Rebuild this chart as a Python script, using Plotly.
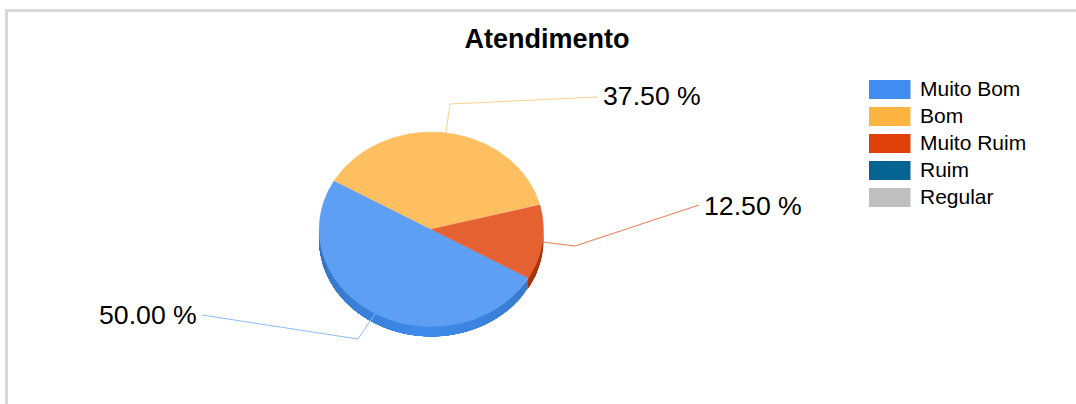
import numpy as np
import plotly.graph_objects as go

categories = ["Muito Bom", "Bom", "Muito Ruim", "Ruim", "Regular"]
values = [50.0, 37.5, 12.5, 0.0, 0.0]
legend_colors = ["#418CF0", "#FCB441", "#E0400A", "#056492", "#BFBFBF"]
top_colors = ["#5F9FF3", "#FDBF60", "#E66131", "#056492", "#BFBFBF"]
side_dark = ["#3570BB", "#F0A030", "#A83208", "#044A6D", "#909090"]
side_bright = ["#3D8BEC", "#FCB441", "#B93A0A", "#056492", "#BFBFBF"]
leader_colors = ["#8FBAF5", "#FDD08F", "#EE7A50", "#056492", "#BFBFBF"]
leader_mid = [(358, 339), (450, 104), (575, 246), None, None]
leader_end = [(202, 315), (598, 97), (699, 205), None, None]
label_pos = [(148, 314.5), (652, 95.5), (753, 205.5), None, None]

CX, CY, RX, RY, DEPTH = 431.3, 229.3, 112.2, 97.3, 9.8
START = -30.0
FONT = "Liberation Sans, Arial, sans-serif"


def px(a, dy=0.0):
    r = np.radians(a)
    return CX + RX * np.cos(r), CY - RY * np.sin(r) + dy


def mix(c1, c2, t):
    a = [int(c1[i:i + 2], 16) for i in (1, 3, 5)]
    b = [int(c2[i:i + 2], 16) for i in (1, 3, 5)]
    return "rgb(%d,%d,%d)" % tuple(round(p + (q - p) * t) for p, q in zip(a, b))


fig = go.Figure()
total = sum(values)
sweeps = []
ang = START
for v in values:
    sweeps.append((ang, ang - 360 * v / total))
    ang -= 360 * v / total


def fill_trace(xs, ys, color, width=0.0):
    fig.add_trace(go.Scatter(x=xs, y=ys, mode="lines", fill="toself", fillcolor=color,
                             line=dict(width=width, color=color), showlegend=False, hoverinfo="skip"))


# Side wall, visible on the lower half only; each band overlaps the rest of its slice
for i, (a0, a1) in enumerate(sweeps):
    vis = []
    for shift in (0, 360):
        s0, s1 = a0 + shift, a1 + shift
        h, l = min(s0, 0.0), max(s1, -180.0)
        if h > l:
            vis.append((h, l))
    for h, l in vis:
        n = max(1, int((h - l) / 4))
        edges = np.linspace(h, l, n + 1)
        for e0, e1 in zip(edges[:-1], edges[1:]):
            m = (e0 + e1) / 2
            t = 1 - abs(m + 92) / 90
            arc = np.linspace(e0, l, max(3, int((e0 - l) / 2) + 2))
            xt, yt = px(arc)
            xb, yb = px(arc[::-1], DEPTH)
            fill_trace(list(xt) + list(xb), list(yt) + list(yb),
                       mix(side_dark[i], side_bright[i], max(0, min(1, t))))

# Leader lines
for i, (a0, a1) in enumerate(sweeps):
    if values[i] == 0:
        continue
    sx, sy = px((a0 + a1) / 2)
    fig.add_trace(go.Scatter(x=[sx, leader_mid[i][0], leader_end[i][0]],
                             y=[sy, leader_mid[i][1], leader_end[i][1]], mode="lines",
                             line=dict(width=1, color=leader_colors[i]),
                             showlegend=False, hoverinfo="skip"))

# Top faces
for i, (a0, a1) in enumerate(sweeps):
    if values[i] == 0:
        continue
    arc = np.linspace(a0, a1, 120)
    xa, ya = px(arc)
    fill_trace([CX] + list(xa) + [CX], [CY] + list(ya) + [CY], top_colors[i], 0.4)

annotations = []
for i, v in enumerate(values):
    if v == 0:
        continue
    annotations.append(dict(x=label_pos[i][0], y=label_pos[i][1], xref="x", yref="y",
                            text=f"{v / total * 100:.2f} %", showarrow=False,
                            font=dict(family=FONT, size=26.67, color="#000000")))

# Legend: swatches and names in the reference's proportions
shapes = [
    dict(type="line", xref="paper", yref="paper", x0=5 / 1076, x1=1, y0=1 - 10.5 / 404, y1=1 - 10.5 / 404,
         line=dict(color="#D8D8D8", width=3)),
    dict(type="line", xref="paper", yref="paper", x0=6.5 / 1076, x1=6.5 / 1076, y0=0, y1=1 - 9 / 404,
         line=dict(color="#D8D8D8", width=3)),
]
for i, (name, color) in enumerate(zip(categories, legend_colors)):
    row = 89.6 + 27.0 * i
    shapes.append(dict(type="rect", xref="x", yref="y", x0=869, x1=910.5, y0=row - 9.5, y1=row + 9.5,
                       fillcolor=color, line=dict(width=0)))
    annotations.append(dict(x=918, y=row - 1, xref="x", yref="y", xanchor="left", text=name, showarrow=False,
                            font=dict(family=FONT, size=21, color="#000000")))

fig.update_layout(
    width=1076, height=404, autosize=False,
    margin=dict(l=0, r=0, t=0, b=0),
    paper_bgcolor="#ffffff", plot_bgcolor="#ffffff",
    xaxis=dict(range=[0, 1076], visible=False, fixedrange=True),
    yaxis=dict(range=[404, 0], visible=False, fixedrange=True),
    title=dict(text="<b>Atendimento</b>", x=547 / 1076, xanchor="center", y=1 - 39 / 404, yanchor="middle",
               font=dict(family=FONT, size=27, color="#000000")),
    showlegend=False,
    annotations=annotations,
    shapes=shapes,
)
fig.write_html("out.html", config={"displayModeBar": False},
               post_script="document.body.style.margin='0';document.body.style.overflow='hidden';")
